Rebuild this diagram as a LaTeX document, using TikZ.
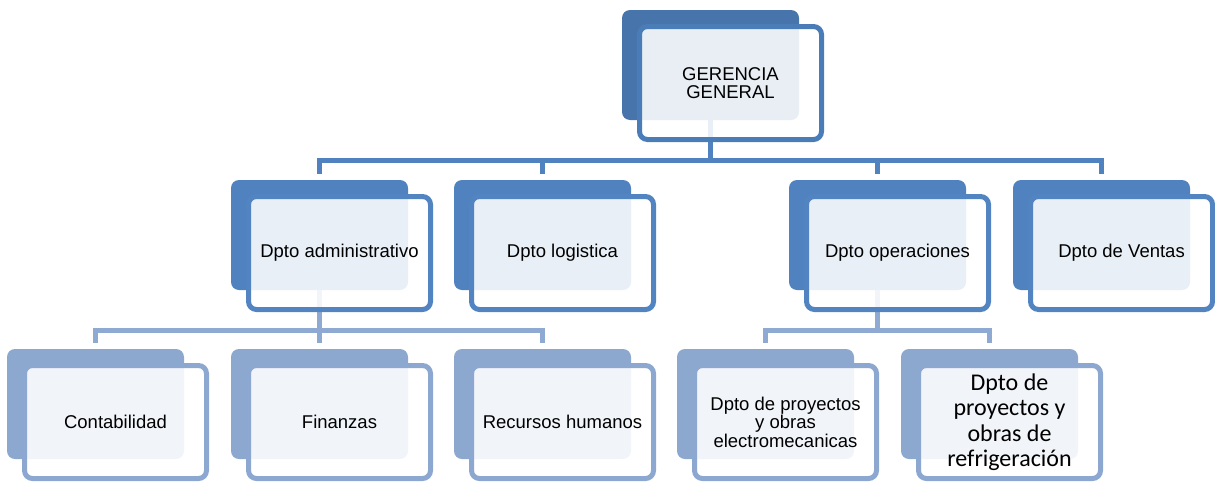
\documentclass[tikz,border=0pt]{standalone}
\usepackage{fontspec}
\setmainfont{Liberation Sans}
\newfontfamily\calfont{Carlito}
\definecolor{backA}{RGB}{71,117,171}
\definecolor{lineA}{RGB}{74,124,183}
\definecolor{backB}{RGB}{80,130,191}
\definecolor{lineB}{RGB}{82,132,193}
\definecolor{backC}{RGB}{141,168,206}
\definecolor{lineC}{RGB}{141,168,208}
\definecolor{busA}{RGB}{80,130,191}
\definecolor{busC}{RGB}{143,170,210}
\tikzset{
  backbox/.style={anchor=north west, minimum width=177pt, minimum height=110pt,
    inner sep=0pt, outer sep=0pt, rounded corners=8pt},
  backA/.style={backbox, fill=backA},
  backB/.style={backbox, fill=backB},
  backC/.style={backbox, fill=backC},
  frontbox/.style={anchor=north west, minimum width=182pt, minimum height=113pt,
    inner sep=0pt, outer sep=0pt, rounded corners=8pt, line width=5pt,
    fill=white, fill opacity=0.88, text opacity=1, align=center,
    font=\fontsize{18.5}{18.5}\selectfont},
  frontA/.style={frontbox, draw=lineA},
  frontB/.style={frontbox, draw=lineB},
  frontC/.style={frontbox, draw=lineC},
  busline/.style={line width=5pt, line join=miter},
  busAline/.style={busline, draw=busA},
  busCline/.style={busline, draw=busC},
}
\newcommand\frontat[1]{([shift={(17.5pt,-16.5pt)}]#1-b.north west)}
\begin{document}
\begin{tikzpicture}[x=1pt, y=-1pt]
\useasboundingbox (0,0) rectangle (1215,482);
% back plates
\node[backA] (gg-b)  at (622,10) {};
\node[backB] (adm-b) at (231,180) {};
\node[backB] (log-b) at (454,180) {};
\node[backB] (ope-b) at (789,180) {};
\node[backB] (ven-b) at (1013,180) {};
\node[backC] (con-b) at (7,349) {};
\node[backC] (fin-b) at (231,349) {};
\node[backC] (rrh-b) at (454,349) {};
\node[backC] (pel-b) at (677,349) {};
\node[backC] (pre-b) at (901,349) {};
% bus lines
\coordinate (busone) at (0,160);
\coordinate (bustwo) at (0,330);
\draw[busAline] (gg-b.south) -- (gg-b.south |- busone);
\draw[busAline] ([yshift=6pt]adm-b.north) |- (ven-b.north |- busone) -- ([yshift=6pt]ven-b.north);
\draw[busAline] ([yshift=6pt]log-b.north) -- (log-b.north |- busone);
\draw[busAline] ([yshift=6pt]ope-b.north) -- (ope-b.north |- busone);
\draw[busCline] (adm-b.south) -- (adm-b.south |- bustwo);
\draw[busCline] ([yshift=6pt]con-b.north) |- (rrh-b.north |- bustwo) -- ([yshift=6pt]rrh-b.north);
\draw[busCline] ([yshift=6pt]fin-b.north) -- (fin-b.north |- bustwo);
\draw[busCline] (ope-b.south) -- (ope-b.south |- bustwo);
\draw[busCline] ([yshift=6pt]pel-b.north) |- (pre-b.north |- bustwo) -- ([yshift=6pt]pre-b.north);
% front cards
\node[frontA] (gg)  at \frontat{gg}  {GERENCIA\\GENERAL};
\node[frontB] (adm) at \frontat{adm} {Dpto administrativo};
\node[frontB] (log) at \frontat{log} {Dpto logistica};
\node[frontB] (ope) at \frontat{ope} {Dpto operaciones};
\node[frontB] (ven) at \frontat{ven} {Dpto de Ventas};
\node[frontC] (con) at \frontat{con} {Contabilidad};
\node[frontC] (fin) at \frontat{fin} {Finanzas};
\node[frontC] (rrh) at \frontat{rrh} {Recursos humanos};
\node[frontC] (pel) at \frontat{pel} {Dpto de proyectos\\y obras\\electromecanicas};
\node[frontC, font=\calfont\fontsize{24}{25.5}\selectfont] (pre) at \frontat{pre}
  {Dpto de\\proyectos y\\obras de\\refrigeración};
\end{tikzpicture}
\end{document}
